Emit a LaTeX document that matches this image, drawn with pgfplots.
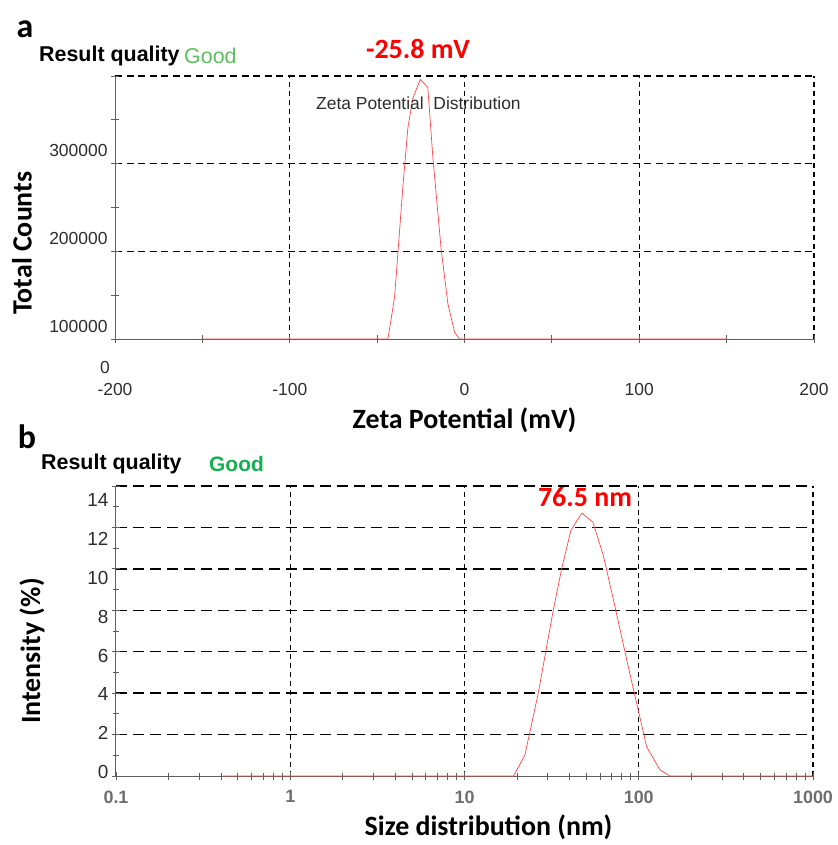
\documentclass[border=0pt]{standalone}
\usepackage{pgfplots}
\pgfplotsset{compat=1.18}
\usepackage{fontspec}
\setmainfont{Liberation Sans}
\newfontfamily\calib{Carlito}
\definecolor{goodA}{RGB}{92,190,92}
\definecolor{goodB}{RGB}{20,176,80}
\definecolor{curve}{RGB}{255,70,70}
\definecolor{axgray}{RGB}{95,95,95}
\definecolor{lblA}{RGB}{45,45,45}
\definecolor{lblB}{RGB}{110,110,110}
\begin{document}
\begin{tikzpicture}[x=1bp,y=1bp]
\useasboundingbox (0,0) rectangle (838,-845);
% ---------------- panel a ----------------
\begin{axis}[
  at={(115bp,-339bp)}, anchor=south west,
  scale only axis, width=699bp, height=263bp,
  xmin=-200, xmax=200, ymin=100000, ymax=400000,
  scaled y ticks=false, scaled x ticks=false,
  axis x line*=bottom, axis y line*=left,
  axis line style={-, draw=axgray, line width=1bp},
  /pgf/number format/assume math mode=true,
  xtick={-100,0,100,200}, xticklabels={-100,0,100,200},
  extra x ticks={-200}, extra x tick labels={-200},
  extra x tick style={grid=none},
  minor xtick={-150,-50,50,150},
  ytick={200000,300000,400000}, yticklabels={200000,300000,{}},
  extra y ticks={100000}, extra y tick labels={100000},
  extra y tick style={grid=none},
  minor ytick={150000,250000,350000},
  grid=major,
  x grid style={black, line width=1.4bp, dash pattern=on 5bp off 4bp},
  y grid style={black, line width=1.4bp, dash pattern=on 7bp off 4.5bp},
  tick style={axgray, line width=0.8bp},
  major tick length=8bp, minor tick length=8bp, tick align=center,
  ticklabel style={font=\fontsize{17.5}{20}\selectfont, text=lblA},
  xticklabel style={yshift=-37bp},
  yticklabel style={yshift=13bp},
  xlabel={Zeta Potential (mV)},
  ylabel={Total Counts},
  x label style={at={(axis description cs:0.5,0)}, anchor=center, yshift=-81bp,
    font=\calib\bfseries\fontsize{28}{32}\selectfont},
  y label style={at={(axis description cs:-0.133,0.365)}, anchor=center, rotate=0,
    font=\calib\bfseries\fontsize{28}{32}\selectfont},
  clip=false,
]
\addplot[curve, line width=0.7bp] coordinates {
(-150,100000) (-43.8,100000) (-40,148000) (-35.3,273000) (-32.4,341000)
(-29.5,375000) (-25.3,396000) (-21,387000) (-18.1,307000) (-13.3,201000)
(-9.5,140000) (-5.7,108000) (-2.9,100000) (150,100000)
};
\node[font=\fontsize{17.5}{20}\selectfont, text=lblA, inner sep=0] at (rel axis cs:0,0) [xshift=-10bp, yshift=-28bp] {0};
\end{axis}
% ---------------- panel b ----------------
\begin{axis}[
  at={(116bp,-776bp)}, anchor=south west,
  scale only axis, width=697bp, height=290bp,
  xmode=log, xmin=0.1, xmax=1000, ymin=0, ymax=14,
  axis x line*=bottom, axis y line*=left,
  axis line style={-, draw=axgray, line width=1bp},
  /pgf/number format/assume math mode=true,
  xtick={1,10,100,1000}, xticklabels={1,10,100,1000},
  extra x ticks={0.1}, extra x tick labels={0.1},
  extra x tick style={grid=none},
  minor xtick={0.2,0.3,0.4,0.5,0.6,0.7,0.8,0.9,2,3,4,5,6,7,8,9,20,30,40,50,60,70,80,90,200,300,400,500,600,700,800,900},
  ytick={2,4,6,8,10,12,14}, yticklabels={2,4,6,8,10,12,14},
  extra y ticks={0}, extra y tick labels={0},
  extra y tick style={grid=none},
  minor ytick={1,3,5,7,9,11,13},
  grid=major,
  x grid style={black, line width=1.4bp, dash pattern=on 5bp off 4bp},
  y grid style={black, line width=1.5bp, dash pattern=on 11bp off 6bp},
  tick style={axgray, line width=0.8bp},
  major tick length=8bp, minor tick length=7bp, tick align=center,
  xticklabel style={font=\bfseries\fontsize{18}{20}\selectfont, text=lblB, yshift=-7bp},
  yticklabel style={font=\fontsize{19}{22}\selectfont, text=lblA, yshift={(4-1.3*\tick)*1bp}},
  xlabel={Size distribution (nm)},
  ylabel={Intensity (\%)},
  x label style={at={(axis description cs:0.5,0)}, anchor=center, yshift=-51bp, xshift=24bp,
    font=\calib\bfseries\fontsize{28}{32}\selectfont},
  y label style={at={(axis description cs:-0.1205,0.431)}, anchor=center, rotate=0,
    font=\calib\bfseries\fontsize{28}{32}\selectfont},
  clip=false,
]
\addplot[curve, line width=0.7bp] coordinates {
(0.41,0) (19.1,0) (22.2,1.0) (26.5,4.0) (32.3,8.0) (36.1,10.0) (40.8,11.86)
(47.1,12.69) (54.5,12.26) (62.6,10.65) (73.1,8.16) (87.1,5.27) (111,1.41)
(132.5,0.29) (151,0) (1000,0)
};
\end{axis}
% ---------------- texts ----------------
\node[font=\calib\bfseries\fontsize{34}{40}\selectfont, inner sep=0] at (25,-29) {a};
\node[font=\calib\bfseries\fontsize{34}{40}\selectfont, inner sep=0] at (27,-437) {b};
\node[anchor=west, inner sep=0, font=\bfseries\fontsize{21.5}{24}\selectfont] at (39,-56) {Result quality};
\node[anchor=west, inner sep=0, text=goodA, font=\fontsize{21.5}{24}\selectfont] at (184,-56) {Good};
\node[anchor=west, inner sep=0, font=\bfseries\fontsize{21.5}{24}\selectfont] at (41,-464) {Result quality};
\node[anchor=west, inner sep=0, text=goodB, font=\bfseries\fontsize{21}{24}\selectfont] at (209,-464) {Good};
\node[inner sep=0, text=red, font=\calib\bfseries\fontsize{28}{32}\selectfont] at (418,-49) {-25.8 mV};
\node[anchor=west, inner sep=0, text=lblA, font=\fontsize{17.5}{20}\selectfont] at (316,-103) {Zeta Potential~ Distribution};
\node[inner sep=0, text=red, font=\calib\bfseries\fontsize{28}{32}\selectfont] at (585,-497) {76.5 nm};
\end{tikzpicture}
\end{document}
